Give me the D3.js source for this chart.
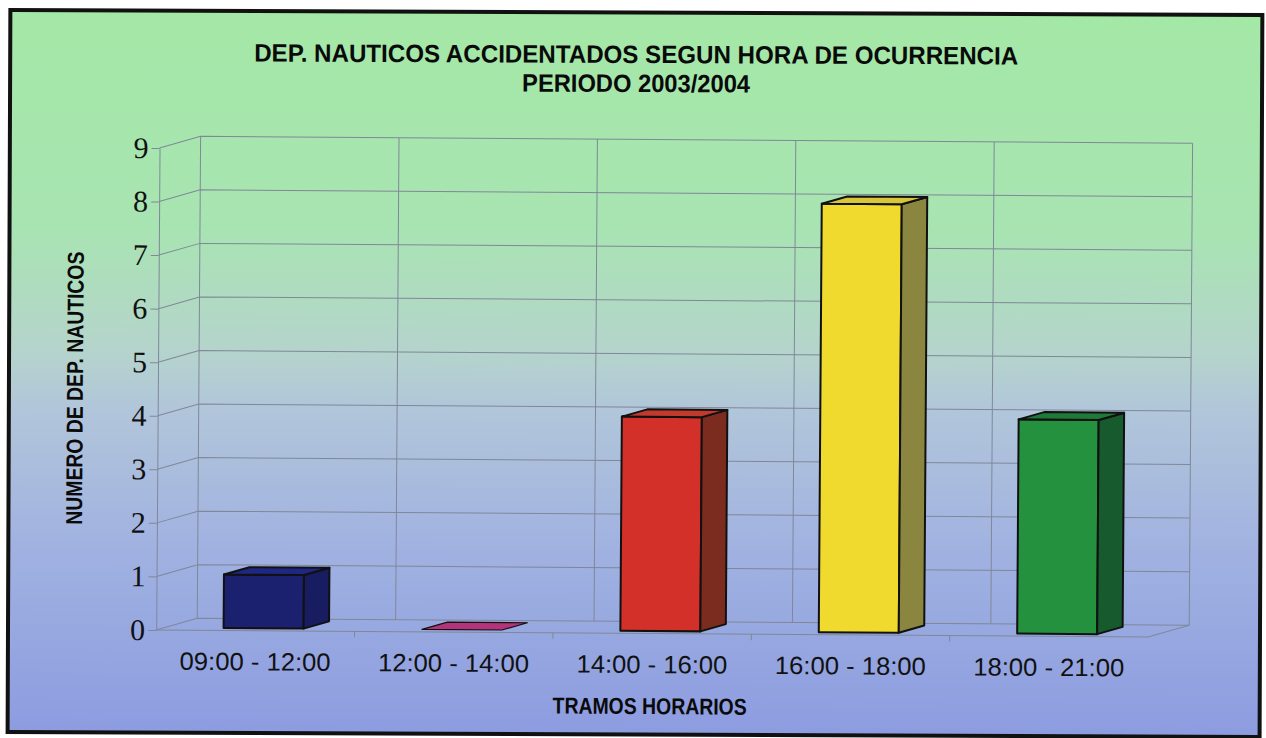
<!DOCTYPE html>
<html>
<head>
<meta charset="utf-8">
<script src="https://cdn.jsdelivr.net/npm/d3@7"></script>
<style>
  body { margin: 0; background: #fff; }
  svg { display: block; }
</style>
</head>
<body>
<svg id="chart" width="1266" height="738"></svg>
<script>
// data
const categories = ["09:00 - 12:00", "12:00 - 14:00", "14:00 - 16:00", "16:00 - 18:00", "18:00 - 21:00"];
const values = [1, 0, 4, 8, 4];
const yTicks = [0, 1, 2, 3, 4, 5, 6, 7, 8, 9];
const frontColors = ["#1b216f", "#b2357c", "#d3302a", "#f0da2e", "#24913f"];
const sideColors = ["#171d60", "#9a2c6c", "#7c2c1e", "#8a8640", "#175a2e"];
const topColors = ["#1f2784", "#a8307a", "#c23a2c", "#d8c63a", "#1e7a38"];
const titleLines = ["DEP. NAUTICOS ACCIDENTADOS SEGUN HORA DE OCURRENCIA", "PERIODO 2003/2004"];
const yTitle = "NUMERO DE DEP. NAUTICOS";
const xTitle = "TRAMOS HORARIOS";

const svg = d3.select("#chart");
const narrow = "'Liberation Sans Narrow', 'Liberation Sans', Arial, sans-serif";

const defs = svg.append("defs");
const grad = defs.append("linearGradient").attr("id", "bg")
  .attr("x1", 0).attr("y1", 0).attr("x2", 0).attr("y2", 1);
[[0, "#a4e8a6"], [0.3, "#a8e4b2"], [0.47, "#b5d4cc"], [0.55, "#b1c6da"],
 [0.75, "#a0b1e1"], [1, "#8c9ce0"]].forEach(([o, c]) =>
  grad.append("stop").attr("offset", o).attr("stop-color", c));

// scan is slightly tilted
const page = svg.append("g").attr("transform", "rotate(0.22, 633, 369)");

page.append("rect")
  .attr("x", 9).attr("y", 12.5).attr("width", 1252).attr("height", 722)
  .attr("fill", "url(#bg)").attr("stroke", "#111").attr("stroke-width", 4);

// titles
page.selectAll(".title").data(titleLines).enter().append("text")
  .attr("x", 635).attr("y", (d, i) => 63 + i * 29)
  .attr("text-anchor", "middle")
  .attr("font-family", narrow).attr("font-weight", "bold").attr("font-size", 25)
  .attr("fill", "#0a0a0a")
  .attr("textLength", (d, i) => i == 0 ? 764 : 228)
  .attr("lengthAdjust", "spacingAndGlyphs")
  .text(d => d);

const plot = page.append("g").attr("transform", "rotate(0.18, 633, 369)");

const x = d3.scaleBand().domain(categories).range([158, 1150]);
const y = d3.scaleLinear().domain([0, 9]).range([633.3, 151.3]);
const DX = 41, DY = -12;   // depth of the floor
const d0 = 0.2, d1 = 0.82; // bar depth range
const halfW = 40;

const pt = (px, v, d) => [px + d * DX, y(v) + d * DY];
const poly = pts => "M" + pts.map(p => p.join(",")).join("L") + "Z";

const gridColor = "#7f8898";

// side wall + back wall gridlines
const grid = plot.append("g").attr("fill", "none").attr("stroke", gridColor).attr("stroke-width", 1);
grid.selectAll(".hl").data(yTicks).enter().append("path")
  .attr("d", v => d3.line()([[158, y(v)], [158 + DX, y(v) + DY], [1150 + DX, y(v) + DY]]));

const bounds = [158].concat(categories.map(c => x(c) + x.bandwidth()));
grid.selectAll(".vl").data(bounds).enter().append("line")
  .attr("x1", b => b + DX).attr("x2", b => b + DX)
  .attr("y1", y(0) + DY).attr("y2", y(9) + DY);

// floor
grid.append("path")
  .attr("d", d3.line()([[158, y(0)], [1150, y(0)], [1150 + DX, y(0) + DY]]));
grid.selectAll(".ft").data(bounds.slice(1, 5)).enter().append("line")
  .attr("x1", b => b).attr("x2", b => b)
  .attr("y1", y(0)).attr("y2", y(0) + 6);

// y axis
const yAxis = plot.append("g").attr("transform", "translate(158,0)")
  .call(d3.axisLeft(y).tickValues(yTicks).tickSize(8).tickSizeOuter(0).tickPadding(3));
yAxis.select(".domain").attr("stroke", gridColor);
yAxis.selectAll(".tick line").attr("stroke", gridColor);
yAxis.selectAll(".tick text")
  .attr("font-family", "'Liberation Serif', 'Times New Roman', serif")
  .attr("font-size", 30).attr("fill", "#111");

// bars
const bars = plot.append("g").attr("stroke", "#111").attr("stroke-width", 2)
  .attr("stroke-linejoin", "round");
categories.forEach((c, i) => {
  const v = values[i];
  const cx = x(c) + x.bandwidth() / 2;
  const x0 = cx - halfW, x1 = cx + halfW;
  const g = bars.append("g");
  if (v > 0) {
    g.append("path").attr("fill", frontColors[i])
      .attr("d", poly([pt(x0, 0, d0), pt(x1, 0, d0), pt(x1, v, d0), pt(x0, v, d0)]));
    g.append("path").attr("fill", sideColors[i])
      .attr("d", poly([pt(x1, 0, d0), pt(x1, 0, d1), pt(x1, v, d1), pt(x1, v, d0)]));
  }
  g.append("path").attr("fill", v > 0 ? topColors[i] : frontColors[i])
    .attr("stroke-width", v > 0 ? 2 : 1.2)
    .attr("d", poly([pt(x0, v, d0), pt(x1, v, d0), pt(x1, v, d1), pt(x0, v, d1)]));
});

// category labels
plot.selectAll(".xl").data(categories).enter().append("text")
  .attr("x", c => x(c) + x.bandwidth() / 2)
  .attr("y", 673)
  .attr("text-anchor", "middle")
  .attr("font-family", "'Liberation Sans', Arial, sans-serif")
  .attr("font-size", 25).attr("fill", "#111")
  .attr("textLength", 151).attr("lengthAdjust", "spacingAndGlyphs")
  .text(c => c);

// axis titles
plot.append("text")
  .attr("x", 652).attr("y", 714)
  .attr("text-anchor", "middle")
  .attr("font-family", narrow).attr("font-weight", "bold").attr("font-size", 23)
  .attr("fill", "#0a0a0a")
  .attr("textLength", 194).attr("lengthAdjust", "spacingAndGlyphs")
  .text(xTitle);

plot.append("text")
  .attr("transform", "translate(83,392) rotate(-90)")
  .attr("text-anchor", "middle")
  .attr("font-family", narrow).attr("font-weight", "bold").attr("font-size", 23)
  .attr("fill", "#0a0a0a")
  .attr("textLength", 273).attr("lengthAdjust", "spacingAndGlyphs")
  .text(yTitle);
</script>
</body>
</html>
